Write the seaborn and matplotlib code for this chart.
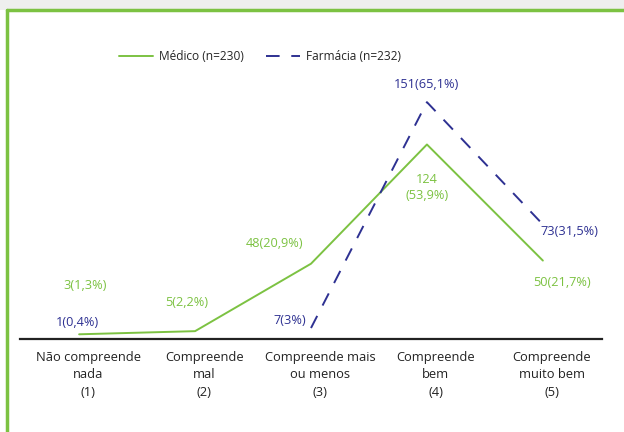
import seaborn as sns
import pandas as pd
import matplotlib.pyplot as plt
from matplotlib.lines import Line2D
from matplotlib.patches import Rectangle
from matplotlib.transforms import ScaledTranslation

# categories on the x axis
categories = ['Não compreende\nnada\n(1)', 'Compreende\nmal\n(2)', 'Compreende mais\nou menos\n(3)',
              'Compreende\nbem\n(4)', 'Compreende\nmuito bem\n(5)']
positions = [1, 2, 3, 4, 5]

# series values (None = not drawn in the original)
medico = [3, 5, 48, 124, 50]
farmacia = [None, None, 7, 151, 73]

# value labels as printed
medico_labels = ['3(1,3%)', '5(2,2%)', '48(20,9%)', '124\n(53,9%)', '50(21,7%)']
farmacia_labels = ['1(0,4%)', None, '7(3%)', '151(65,1%)', '73(31,5%)']
farmacia_label_values = [1, None, 7, 151, 73]

green = '#7cc242'
blue = '#2e3192'

sns.set_style('white')
plt.rcParams['font.family'] = ['Open Sans', 'DejaVu Sans']

fig = plt.figure(figsize=(6.24, 4.32), dpi=100)
ax = fig.add_axes([20 / 624, 1 - 339 / 432, 582 / 624, 320 / 432])

df_m = pd.DataFrame({'x': positions, 'y': medico})
df_f = pd.DataFrame({'x': positions, 'y': farmacia}).dropna()

sns.lineplot(data=df_m, x='x', y='y', ax=ax, color=green, linewidth=1.4, label='Médico (n=230)')
sns.lineplot(data=df_f, x='x', y='y', ax=ax, color=blue, linewidth=1.4, label='Farmácia (n=232)',
             dashes=False)
ax.lines[1].set_dashes([7, 6])

ax.set_xlim(0.49, 5.51)
ax.set_ylim(0, 204)
ax.set_xlabel('')
ax.set_ylabel('')
ax.set_yticks([])
ax.set_xticks(positions)
ax.set_xticklabels(categories, fontsize=9.3, color='#222222', linespacing=1.4)
ax.tick_params(axis='x', length=0, pad=9)
for lab in ax.get_xticklabels():
    lab.set_transform(lab.get_transform() + ScaledTranslation(9 / 100, 0, fig.dpi_scale_trans))

for s in ['top', 'right', 'left']:
    ax.spines[s].set_visible(False)
ax.spines['bottom'].set_color('#222222')
ax.spines['bottom'].set_linewidth(1.6)

# value labels (offsets in pixels from each point)
m_off = [(6, 49), (-8, 29), (-36, 20), (0, -43), (19, -22)]
for x, y, t, o in zip(positions, medico, medico_labels, m_off):
    ax.annotate(t, xy=(x, y), xytext=o, textcoords='offset pixels', ha='center', va='center',
                color=green, fontsize=9.2, linespacing=1.3)
f_off = [(-2, 15), None, (-21, 8), (0, 18), (27, -7)]
for x, y, t, o in zip(positions, farmacia_label_values, farmacia_labels, f_off):
    if t is None:
        continue
    ax.annotate(t, xy=(x, y), xytext=o, textcoords='offset pixels', ha='center', va='center',
                color=blue, fontsize=9.2)

ax.legend().remove()
fig.legend(handles=ax.lines[:2], labels=['Médico (n=230)', 'Farmácia (n=232)'], loc='center',
           bbox_to_anchor=(260 / 624, 1 - 57 / 432), ncol=2, frameon=False, fontsize=8.6,
           handlelength=2.9, columnspacing=1.8, handletextpad=0.5)

# page frame
fig.patches.append(Rectangle((0, 1 - 10 / 432), 1, 10 / 432, transform=fig.transFigure,
                             facecolor='#eeefee', edgecolor='none', zorder=0))
fig.lines.append(Line2D([7 / 624, 1], [1 - 10 / 432, 1 - 10 / 432], transform=fig.transFigure,
                        color=green, linewidth=2.5))
fig.lines.append(Line2D([7 / 624, 7 / 624], [0, 1 - 10 / 432], transform=fig.transFigure,
                        color=green, linewidth=2.5))

plt.savefig('out.png', dpi=100)
